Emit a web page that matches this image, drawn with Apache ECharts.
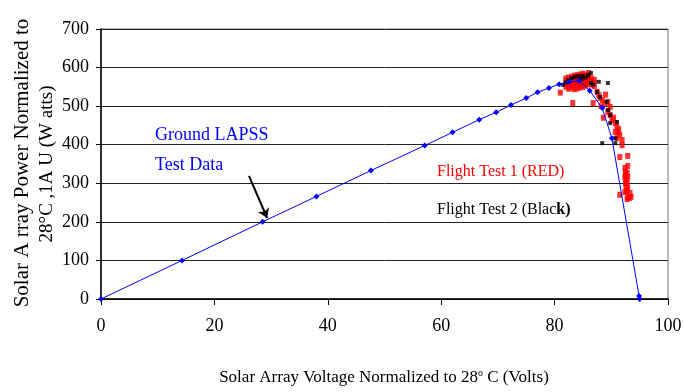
<!DOCTYPE html>
<html>
<head>
<meta charset="utf-8">
<script src="https://cdn.jsdelivr.net/npm/echarts@6/dist/echarts.min.js"></script>
<style>
    html, body { margin: 0; padding: 0; background: #fff; }
    #IV-Chart { width: 684px; height: 392px; }
</style>
</head>
<body>
<div id="IV-Chart"></div>
<script>
// 地面 LAPSS 测试曲线 + 两次飞行测试散点
const xTicks = [0, 20, 40, 60, 80, 100]
const yTicks = [0, 100, 200, 300, 400, 500, 600, 700]

const groundVolts = [0, 14.3, 28.5, 38, 47.6, 57.1, 62, 66.7, 69.7, 72.3, 75, 77, 79, 80.8, 82.6, 84.3, 86.2, 88.4, 90.1, 94.9, 95]
const groundWatts = [0, 100, 200, 266, 333, 398, 432, 465, 484, 503, 521, 536, 547, 557, 563, 566, 540, 495, 417, 8, 0]

// Flight Test 1 (红)
const flight1 = [
    [82.0, 550], [82.0, 558], [82.0, 565], [82.0, 572],
    [82.5, 545], [82.5, 553], [82.5, 560], [82.5, 567], [82.5, 574],
    [83.0, 548], [83.0, 555], [83.0, 562], [83.0, 569], [83.0, 576],
    [83.5, 544], [83.5, 551], [83.5, 558], [83.5, 565], [83.5, 572], [83.5, 579],
    [84.0, 546], [84.0, 553], [84.0, 560], [84.0, 567], [84.0, 574], [84.0, 580],
    [84.5, 548], [84.5, 555], [84.5, 562], [84.5, 569], [84.5, 576], [84.5, 582],
    [85.0, 550], [85.0, 557], [85.0, 564], [85.0, 571], [85.0, 578], [85.0, 584],
    [85.5, 553], [85.5, 560], [85.5, 567], [85.5, 574], [85.5, 580],
    [86.0, 558], [86.0, 565], [86.0, 572], [86.0, 579], [86.0, 586],
    [86.5, 556], [86.5, 564], [86.5, 572],
    [87.0, 552], [87.0, 560], [87.0, 568],
    [81.0, 535], [83.2, 508], [86.8, 508], [87.5, 537], [87.8, 529], [88.0, 521],
    [88.4, 516], [88.9, 508], [89.4, 511], [89.8, 498], [89.4, 485], [89.8, 477],
    [90.1, 464], [90.7, 456], [91.0, 446], [90.7, 433], [91.2, 433], [91.5, 425],
    [91.9, 412], [91.0, 417], [91.9, 399], [91.5, 368], [92.9, 371], [92.4, 340],
    [92.8, 327], [92.4, 316], [92.9, 316], [92.8, 301], [92.9, 288], [92.4, 277],
    [93.3, 275], [92.9, 264], [92.8, 259], [91.5, 270], [92.5, 300], [92.6, 290],
    [92.7, 280], [92.5, 330], [88.6, 470], [93.2, 262], [93.5, 265], [92.6, 310],
    [92.5, 322], [92.9, 345], [89.0, 530], [88.2, 500], [90.4, 470], [91.3, 440]
]

// Flight Test 2 (黑)
const flight2 = [
    [81.5, 555], [82.0, 562], [82.4, 568], [83.1, 573], [83.6, 576], [84.3, 578],
    [84.8, 570], [85.0, 578], [85.5, 574], [85.9, 581], [86.4, 586], [86.4, 560],
    [86.8, 555], [87.8, 563], [89.4, 560], [87.5, 537], [88.0, 524], [89.2, 511],
    [89.4, 490], [89.8, 477], [89.8, 456], [91.0, 459], [90.7, 417], [88.4, 404],
    [90.7, 404]
]

const serif = 'Liberation Serif'

function drawIVChart() {
    var dom = document.getElementById('IV-Chart');
    var myChart = echarts.init(dom, null, {
        renderer: 'canvas',
        useDirtyRect: false
    });
    var option;

    option = {
        animation: false,
        backgroundColor: '#fff',
        grid: {
            left: 101,
            right: 16,
            top: 29,
            bottom: 93,
            show: true,
            borderColor: '#777',
            borderWidth: 1,
            outerBoundsMode: 'none'
        },
        xAxis: {
            type: 'value',
            min: xTicks[0],
            max: xTicks[xTicks.length - 1],
            interval: 20,
            axisLine: { onZero: false, lineStyle: { color: '#000', width: 1.5 } },
            axisTick: { show: true, length: 6, lineStyle: { color: '#000' } },
            axisLabel: { color: '#000', fontFamily: serif, fontSize: 18, margin: 18 },
            splitLine: { show: false }
        },
        yAxis: {
            type: 'value',
            min: yTicks[0],
            max: yTicks[yTicks.length - 1],
            interval: 100,
            axisLine: { show: true, onZero: false, lineStyle: { color: '#000', width: 1.5 } },
            axisTick: { show: true, length: 5, lineStyle: { color: '#000' } },
            axisLabel: { color: '#000', fontFamily: serif, fontSize: 18, margin: 12 },
            splitLine: { show: true, lineStyle: { color: '#222', width: 1 } }
        },
        graphic: [
            {
                type: 'text', x: 22, y: 163, rotation: Math.PI / 2,
                style: { text: 'Solar A rray Power Normalized to', font: '21px ' + serif, fill: '#000', align: 'center', verticalAlign: 'middle' }
            },
            {
                type: 'text', x: 47, y: 164, rotation: Math.PI / 2,
                style: { text: '28°C ,1A U (W atts)', font: '19px ' + serif, fill: '#000', align: 'center', verticalAlign: 'middle' }
            },
            {
                type: 'text', x: 384, y: 378,
                style: {
                    text: '{a|Solar Array Voltage Normalized to 28}{s|o}{a| C (Volts)}',
                    align: 'center', verticalAlign: 'middle',
                    rich: {
                        a: { fontFamily: serif, fontSize: 17, fill: '#000' },
                        s: { fontFamily: serif, fontSize: 10, fill: '#000', padding: [0, 0, 9, 0] }
                    }
                }
            },
            {
                type: 'text', x: 155, y: 135,
                style: { text: 'Ground LAPSS', font: '18px ' + serif, fill: '#0000ff', verticalAlign: 'middle' }
            },
            {
                type: 'text', x: 155, y: 165,
                style: { text: 'Test Data', font: '18px ' + serif, fill: '#0000ff', verticalAlign: 'middle' }
            },
            {
                type: 'text', x: 437, y: 172,
                style: { text: 'Flight Test 1 (RED)', font: '16px ' + serif, fill: '#ff0000', verticalAlign: 'middle' }
            },
            {
                type: 'text', x: 437, y: 210,
                style: {
                    text: '{a|Flight Test 2 (Blac}{b|k)}',
                    verticalAlign: 'middle',
                    rich: {
                        a: { fontFamily: serif, fontSize: 16, fill: '#000' },
                        b: { fontFamily: serif, fontSize: 16, fontWeight: 'bold', fill: '#000' }
                    }
                }
            }
        ],
        series: [
            {
                name: 'Flight Test 1',
                type: 'scatter',
                symbol: 'rect',
                symbolSize: [5, 6],
                itemStyle: { color: '#ff0000' },
                data: flight1,
                z: 3
            },
            {
                name: 'Flight Test 2',
                type: 'scatter',
                symbol: 'rect',
                symbolSize: [4, 4],
                itemStyle: { color: '#000' },
                data: flight2,
                z: 4
            },
            {
                name: 'Ground LAPSS',
                type: 'line',
                symbol: 'diamond',
                symbolSize: 6,
                showAllSymbol: true,
                lineStyle: { color: '#0000ff', width: 1 },
                itemStyle: { color: '#0000ff' },
                data: groundVolts.map(function (v, i) { return [v, groundWatts[i]]; }),
                markLine: {
                    silent: true,
                    animation: false,
                    label: { show: false },
                    lineStyle: { color: '#000', width: 2, type: 'solid' },
                    symbolSize: 9,
                    data: [
                        [
                            { coord: [26.1, 319], symbol: 'none' },
                            { coord: [29.3, 210], symbol: 'arrow' }
                        ]
                    ]
                },
                z: 5
            }
        ]
    };

    if (option && typeof option === 'object') {
        myChart.setOption(option);
    }

    window.addEventListener('resize', myChart.resize);
}

drawIVChart();
</script>
</body>
</html>
